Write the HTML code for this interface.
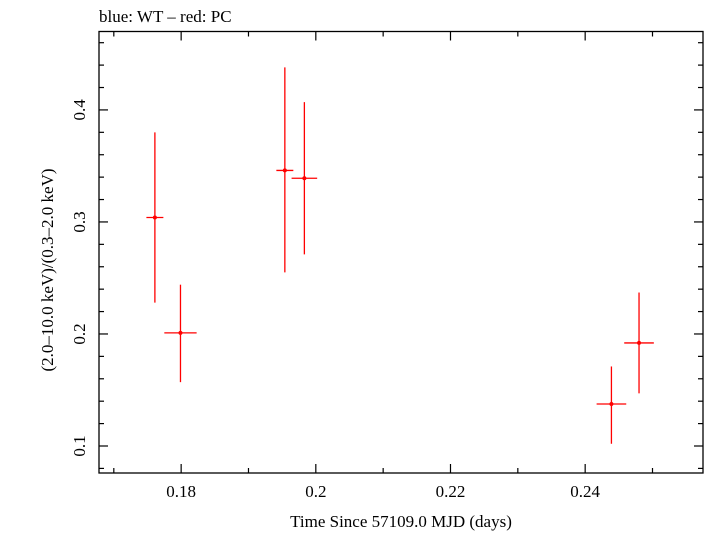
<!DOCTYPE html>
<html><head><meta charset="utf-8"><style>
body{margin:0;background:#fff;}
svg text{font-family:"Liberation Serif",serif;fill:#000;}
</style></head><body>
<svg id="chart" width="705" height="532" viewBox="0 0 705 532">
<text x="99" y="22" font-size="17">blue: WT – red: PC</text>
<rect x="99" y="31.5" width="604" height="441.5" fill="none" stroke="#000" stroke-width="1.3"/>
<g id="ticks"></g>
<g id="marks"></g>
<text x="401" y="527" font-size="17" text-anchor="middle">Time Since 57109.0 MJD (days)</text>
<text transform="translate(53,270) rotate(-90)" font-size="17" text-anchor="middle">(2.0–10.0 keV)/(0.3–2.0 keV)</text>
</svg>
<script>
const times=[0.1761,0.1799,0.1954,0.1983,0.2439,0.2480];
const timeErr=[0.00126,0.0024,0.00126,0.0019,0.0022,0.0022];
const ratios=[0.304,0.201,0.346,0.339,0.1375,0.192];
const ratioLo=[0.228,0.157,0.255,0.271,0.102,0.147];
const ratioHi=[0.380,0.244,0.438,0.407,0.171,0.237];
const xTicks=[0.18,0.20,0.22,0.24];
const xTickLabels=["0.18","0.2","0.22","0.24"];
const yTicks=[0.1,0.2,0.3,0.4];
const yTickLabels=["0.1","0.2","0.3","0.4"];
const X0=99,X1=703,Y0=31.5,Y1=473;
const xMin=0.1678,xMax=0.2575,yMin=0.0759,yMax=0.470;
const sx=v=>X0+(v-xMin)/(xMax-xMin)*(X1-X0);
const sy=v=>Y1-(v-yMin)/(yMax-yMin)*(Y1-Y0);
const NS="http://www.w3.org/2000/svg";
function mk(tag,attrs,parent){const e=document.createElementNS(NS,tag);for(const k in attrs)e.setAttribute(k,attrs[k]);parent.appendChild(e);return e;}
const tg=document.getElementById('ticks');
for(let i=0;i<=9;i++){const v=0.17+i*0.01;if(v>xMax)break;const x=sx(v);const major=Math.abs((v*100)%2)<0.01||Math.abs((v*100)%2-2)<0.01;const L=major?9:5;
const t1=mk('line',{x1:x,x2:x,y1:Y1,y2:Y1-L,stroke:'#000','stroke-width':1.2},tg);


const t2=mk('line',{x1:x,x2:x,y1:Y0,y2:Y0+L,stroke:'#000','stroke-width':1.2},tg);

}
xTicks.forEach((v,i)=>{const t=mk('text',{x:sx(v),y:497,'font-size':17,'text-anchor':'middle'},tg);t.textContent=xTickLabels[i];

});
for(let i=0;i<=20;i++){const v=0.08+i*0.02;if(v>yMax)break;const y=sy(v);const major=Math.abs(Math.round(v*10)-v*10)<0.01;const L=major?9:5;
const t1=mk('line',{x1:X0,x2:X0+L,y1:y,y2:y,stroke:'#000','stroke-width':1.2},tg);


const t2=mk('line',{x1:X1,x2:X1-L,y1:y,y2:y,stroke:'#000','stroke-width':1.2},tg);

}
yTicks.forEach((v,i)=>{const y=sy(v);const t=mk('text',{transform:`translate(85,${y}) rotate(-90)`,'font-size':17,'text-anchor':'middle'},tg);t.textContent=yTickLabels[i];

});
const mg=document.getElementById('marks');
times.forEach((t,i)=>{const g=mk('g',{},mg);


mk('line',{x1:sx(t),x2:sx(t),y1:sy(ratioLo[i]),y2:sy(ratioHi[i]),stroke:'#f00','stroke-width':1.3},g);
mk('line',{x1:sx(t-timeErr[i]),x2:sx(t+timeErr[i]),y1:sy(ratios[i]),y2:sy(ratios[i]),stroke:'#f00','stroke-width':1.3},g);
mk('circle',{cx:sx(t),cy:sy(ratios[i]),r:2,fill:'#f00'},g);});
</script>
</body></html>
